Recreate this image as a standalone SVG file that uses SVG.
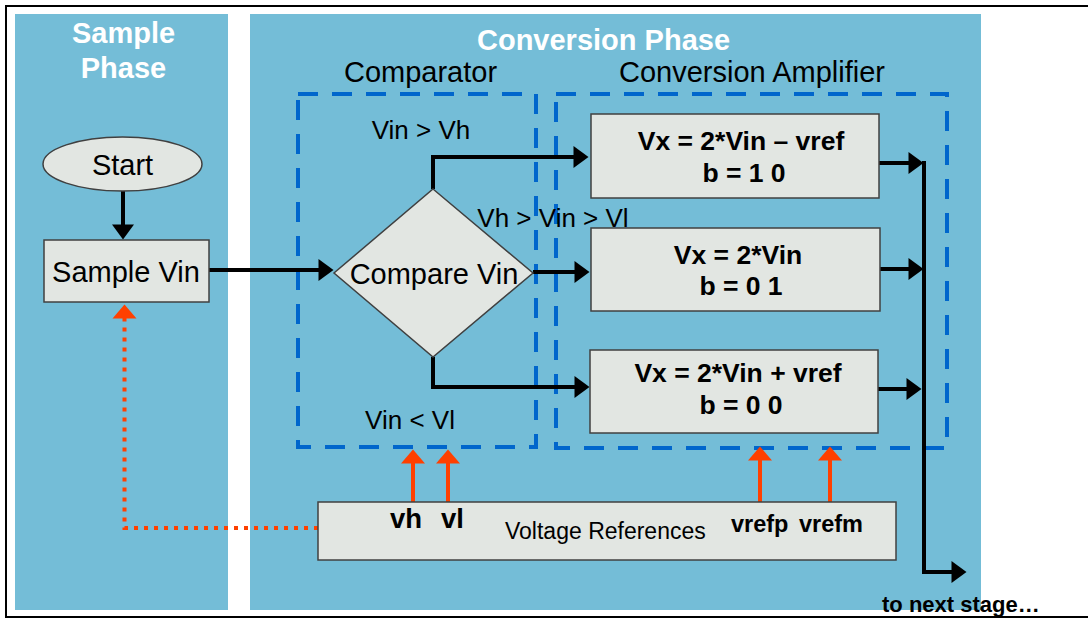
<svg xmlns="http://www.w3.org/2000/svg" width="1088" height="618" viewBox="0 0 1088 618">
<style>
text{font-family:"Liberation Sans",Arial,sans-serif;fill:#000}
.title{font-weight:bold;font-size:29px;fill:#fff;text-anchor:middle}
.lbl{font-size:29px;text-anchor:middle}
.cond{font-size:26px;text-anchor:middle}
.bx{font-weight:bold;font-size:26.5px;text-anchor:middle}
.sig{font-weight:bold;font-size:27.5px}
.sig2{font-weight:bold;font-size:23.5px}
.panel{fill:#74BDD7}
.node{fill:#E2E6E2;stroke:#404040;stroke-width:1.5}
.dash{fill:none;stroke:#0066CC;stroke-width:4;stroke-dasharray:20 14}
.blk{fill:none;stroke:#000;stroke-width:4;marker-end:url(#ah)}
.org{fill:none;stroke:#FF4000;stroke-width:4;marker-end:url(#oh)}
</style>
<defs>
<marker id="ah" markerUnits="userSpaceOnUse" markerWidth="15" markerHeight="22" viewBox="0 0 15 22" refX="0.5" refY="11" orient="auto" overflow="visible">
<path d="M0,0 L15,11 L0,22 Z" fill="#000"/>
</marker>
<marker id="oh" markerUnits="userSpaceOnUse" markerWidth="14" markerHeight="24" viewBox="0 0 14 24" refX="0.5" refY="12" orient="auto" overflow="visible">
<path d="M0,0 L14,12 L0,24 Z" fill="#FF4000"/>
</marker>
</defs>
<rect width="1088" height="618" fill="#fff"/>
<rect x="6" y="6" width="1092" height="611" fill="none" stroke="#000" stroke-width="2"/>
<g id="sample-phase">
<rect class="panel" x="15" y="14" width="213" height="596"/>
<text class="title" x="123.5" y="43">Sample</text>
<text class="title" x="123.5" y="78">Phase</text>
</g>
<g id="conversion-phase">
<rect class="panel" x="250" y="14" width="731" height="596"/>
<text class="title" x="603.5" y="50">Conversion Phase</text>
</g>
<g id="comparator">
<rect class="dash" x="298" y="94" width="238" height="353"/>
<text class="lbl" x="420.5" y="82">Comparator</text>
</g>
<g id="conversion-amplifier">
<rect class="dash" x="556" y="94" width="391" height="354"/>
<text class="lbl" x="752" y="82">Conversion Amplifier</text>
</g>
<g id="connectors">
<path class="blk" d="M123,191 V225"/>
<path class="blk" d="M209,270 H319"/>
<path class="blk" d="M433,189 V157 H574"/>
<path class="blk" d="M533,272 H575"/>
<path class="blk" d="M433,357 V387 H575"/>
<path class="blk" d="M879,163 H909"/>
<path class="blk" d="M880,269 H909"/>
<path class="blk" d="M878,389 H907"/>
<path class="blk" d="M924,161 V572 H952"/>
<path class="org" d="M413,502 V463"/>
<path class="org" d="M448,502 V463"/>
<path class="org" d="M760,502 V460"/>
<path class="org" d="M830,502 V460"/>
<path class="org" d="M318,528 H124.5 V318" stroke-dasharray="4 6"/>
<text class="cond" x="421" y="139">Vin &gt; Vh</text>
<text class="cond" x="553" y="227">Vh &gt; Vin &gt; Vl</text>
<text class="cond" x="410" y="429">Vin &lt; Vl</text>
</g>
<g id="start">
<ellipse class="node" cx="122.5" cy="164" rx="79.5" ry="27"/>
<text class="lbl" x="122.5" y="175">Start</text>
</g>
<g id="sample-vin">
<rect class="node" x="44" y="240" width="165" height="62"/>
<text class="lbl" x="126" y="282">Sample Vin</text>
</g>
<g id="compare-vin">
<polygon class="node" points="433,189 533,273 433,357 334,273" stroke-width="1"/>
<text class="lbl" x="434" y="284">Compare Vin</text>
</g>
<g id="amp-minus">
<rect class="node" x="591" y="114" width="288" height="84"/>
<text class="bx" x="741" y="150">Vx = 2*Vin – vref</text>
<text class="bx" x="744" y="182">b = 1 0</text>
</g>
<g id="amp-zero">
<rect class="node" x="591" y="228" width="289" height="83"/>
<text class="bx" x="738" y="264">Vx = 2*Vin</text>
<text class="bx" x="741" y="295">b = 0 1</text>
</g>
<g id="amp-plus">
<rect class="node" x="590" y="350" width="288" height="83"/>
<text class="bx" x="738" y="382">Vx = 2*Vin + vref</text>
<text class="bx" x="741" y="414">b = 0 0</text>
</g>
<g id="voltage-references">
<rect class="node" x="318" y="502" width="578" height="58"/>
<text class="sig" x="390" y="528">vh</text>
<text class="sig" x="441" y="528">vl</text>
<text x="505" y="539" font-size="23">Voltage References</text>
<text class="sig2" x="731" y="532">vrefp</text>
<text class="sig2" x="799" y="532">vrefm</text>
</g>
<g id="next-stage">
<text x="882" y="612" font-weight="bold" font-size="22">to next stage…</text>
</g>
</svg>
